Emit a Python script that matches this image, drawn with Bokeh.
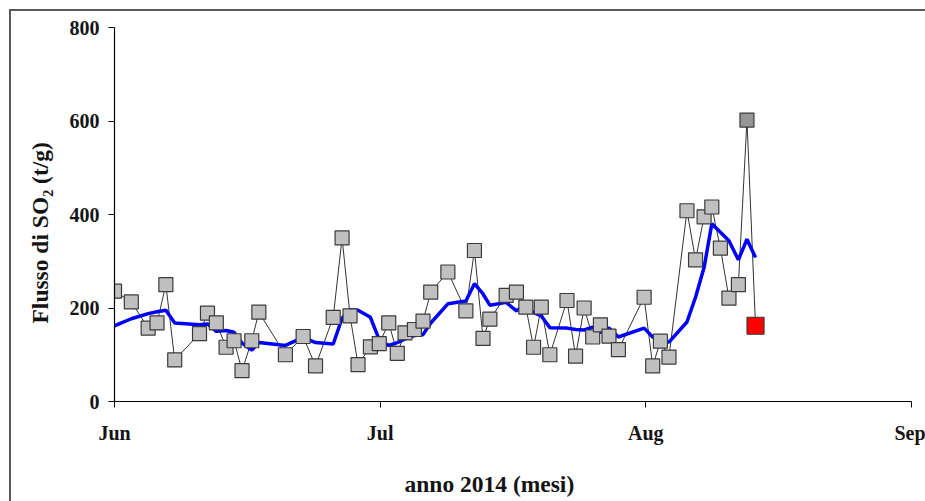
from bokeh.plotting import figure
from bokeh.models import FixedTicker, Title, Range1d, ColumnDataSource
from bokeh.embed import file_html
from bokeh.resources import INLINE

# ---------------- data ----------------
month_labels = ["Jun", "Jul", "Aug", "Sep"]
days_in_month = [30, 31, 31]
y_ticks = [0, 200, 400, 600, 800]

# observation day-of-month (fractional) and SO2 flux (t/g)
jun_days = [1.0, 2.9, 4.8, 5.8, 6.8, 7.8, 10.6, 11.5, 12.5, 13.6, 14.5, 15.4,
            16.5, 17.3, 20.3, 22.3, 23.7, 25.7, 26.7, 27.6, 28.5, 29.9, 30.9]
jun_flux = [236, 213, 157, 168, 250, 89, 145, 189, 168, 116, 130, 66,
            130, 191, 100, 139, 76, 180, 350, 183, 79, 117, 124]
jun_smooth = [162, 177, 188, 192, 195, 168, 164, 166, 150, 152, 148, 125,
              110, 126, 120, 137, 126, 123, 178, 196, 195, 180, 132]

jul_days = [2.0, 3.0, 3.9, 5.0, 6.0, 6.9, 8.9, 11.0, 12.0, 13.0, 13.8, 15.7,
            16.9, 18.0, 18.9, 19.8, 20.8, 22.8, 23.8, 24.8, 25.8, 26.7, 27.7, 28.8]
jul_flux = [168, 103, 147, 154, 172, 234, 277, 194, 323, 135, 176, 227,
            234, 202, 116, 202, 100, 216, 97, 200, 138, 164, 140, 111]
jul_smooth = [120, 126, 134, 141, 143, 168, 209, 215, 252, 230, 206, 212,
              194, 207, 190, 183, 158, 157, 154, 153, 159, 148, 157, 138]

aug_days = [0.8, 1.8, 2.7, 3.7, 5.8, 6.8, 7.8, 8.7, 9.7, 10.7, 11.8, 12.8]
aug_flux = [223, 76, 129, 95, 408, 303, 395, 416, 328, 221, 250, 602]
aug_smooth = [157, 138, 130, 127, 170, 223, 287, 380, 362, 344, 303, 347]

last_day = 13.8      # latest value (August), shown in red
last_flux = 162
last_smooth = 308


def to_x(m, d):
    return m + (d - 1.0) / days_in_month[m]


xs = ([to_x(0, d) for d in jun_days] + [to_x(1, d) for d in jul_days]
      + [to_x(2, d) for d in aug_days])
ys = jun_flux + jul_flux + aug_flux
x_last = to_x(2, last_day)

line_x = xs + [x_last]
line_y = ys + [last_flux]
smooth_x = xs + [x_last]
smooth_y = jun_smooth + jul_smooth + aug_smooth + [last_smooth]

peak_i = ys.index(max(ys))
fills = ["#c0c0c0"] * len(ys)
fills[peak_i] = "#969696"

# ---------------- figure ----------------
FONT = "Liberation Serif"
TXT = "#141414"
FRAME = "#5a5a5a"

p = figure(width=925, height=501, output_backend="svg", toolbar_location=None,
           x_range=Range1d(0, 3), y_range=Range1d(0, 800),
           min_border_left=114, min_border_right=14,
           min_border_top=27, min_border_bottom=100)
p.outline_line_color = None
p.xgrid.visible = False
p.ygrid.visible = False
p.background_fill_color = "white"
p.border_fill_color = None
p.styles = {
    "background": (f"linear-gradient({FRAME}, {FRAME}) 9px 9px / 2px 100% no-repeat, "
                   f"linear-gradient({FRAME}, {FRAME}) 9px 9px / 100% 2px no-repeat, "
                   "white"),
}

p.xaxis.ticker = FixedTicker(ticks=[0, 1, 2, 3])
p.xaxis.major_label_overrides = {i: m for i, m in enumerate(month_labels)}
p.yaxis.ticker = FixedTicker(ticks=y_ticks)
for ax in (p.xaxis, p.yaxis):
    ax.axis_line_color = "black"
    ax.axis_line_width = 1.2
    ax.major_tick_line_color = "black"
    ax.major_tick_in = 0
    ax.major_tick_out = 6
    ax.minor_tick_line_color = None
    ax.major_label_text_font = FONT
    ax.major_label_text_font_style = "bold"
    ax.major_label_text_font_size = "20px"
    ax.major_label_text_color = TXT
p.xaxis.major_label_standoff = 14
p.yaxis.major_label_standoff = 9
# invisible spacer label so the axis panel leaves room above the title
p.xaxis.axis_label = " "
p.xaxis.axis_label_text_font_size = "1px"
p.xaxis.axis_label_standoff = 17

p.line(line_x, line_y, line_color="#333333", line_width=1)
p.line(smooth_x, smooth_y, line_color="#0000ff", line_width=3.5)

src = ColumnDataSource(dict(x=xs, y=ys, fill=fills))
p.scatter("x", "y", source=src, marker="square", size=14,
          fill_color="fill", line_color="#3a3a3a", line_width=1.2)
p.scatter([x_last], [last_flux], marker="square", size=17,
          fill_color="#ff0000", line_color="#3a3a3a", line_width=1.2)

p.add_layout(Title(text="anno 2014 (mesi)", align="left", offset=290,
                   standoff=2, text_font=FONT, text_font_style="bold",
                   text_font_size="23.5px", text_color=TXT), "below")
p.add_layout(Title(text="Flusso di SO\u2082 (t/g)", align="left", offset=78,
                   standoff=28, text_font=FONT, text_font_style="bold",
                   text_font_size="23.5px", text_color=TXT), "left")

open("out.html", "w").write(file_html(p, INLINE))
